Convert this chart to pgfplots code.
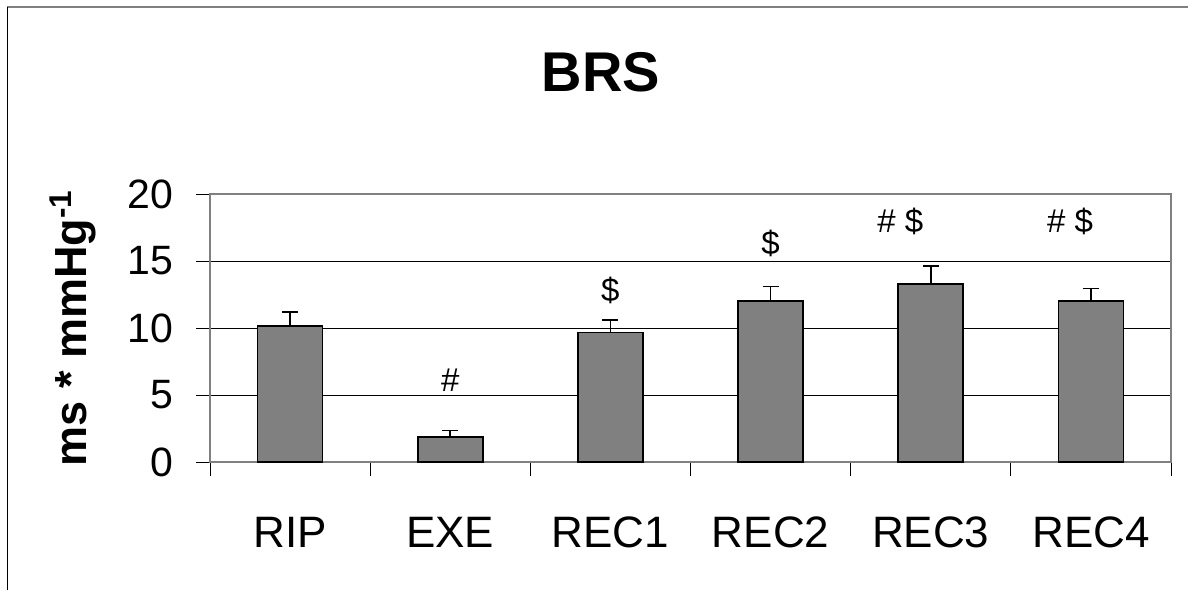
\documentclass[border=0pt]{standalone}
\usepackage{fontspec}
\setmainfont{Liberation Sans}
\usepackage{pgfplots}
\pgfplotsset{compat=1.18}
\definecolor{barfill}{HTML}{808080}
\definecolor{framegray}{HTML}{808080}

\begin{document}
\begin{tikzpicture}
% page frame
\path[use as bounding box] (0,0) rectangle (594pt,295pt);
\draw[framegray, line width=1pt] (3.5pt,291.5pt) -- (594pt,291.5pt);
\draw[black, line width=0.5pt] (3.5pt,291.5pt) -- (3.5pt,0pt);
% title
\node[font=\fontsize{28}{30}\selectfont\bfseries] at (300.5pt,259pt) {BRS};

\begin{axis}[
  at={(105pt,64pt)}, anchor=south west,
  scale only axis,
  width=480.5pt, height=134pt,
  xmin=0, xmax=6, ymin=0, ymax=20,
  axis line style={framegray, line width=0.9pt},
  xtick={0.5,1.5,2.5,3.5,4.5,5.5},
  xticklabels={RIP,EXE,REC1,REC2,REC3,REC4},
  major x tick style={draw=none},
  minor xtick={0,1,2,3,4,5,6},
  minor x tick style={black, line width=0.5pt},
  minor tick length=7pt,
  ytick={0,5,10,15,20},
  major tick length=7pt,
  y tick style={black, line width=0.5pt},
  tick align=outside,
  xtick pos=bottom, ytick pos=left,
  ymajorgrids,
  grid style={black, line width=0.5pt},
  /pgf/number format/assume math mode=true,
  xticklabel style={font=\fontsize{22}{24}\selectfont, yshift=-17pt},
  yticklabel style={font=\fontsize{20.5}{22}\selectfont, xshift=-8pt},
  ylabel={\textbf{ms * mmHg\textsuperscript{-1}}},
  ylabel style={font=\fontsize{22.5}{24}\selectfont, yshift=9pt},
]
\addplot[ybar, bar width=32.5pt, fill=barfill, draw=black, line width=0.9pt,
  error bars/.cd, y dir=plus, y explicit,
  error bar style={black, line width=0.9pt},
  error mark options={rotate=90, mark size=4pt, line width=0.9pt, black}]
  coordinates {
    (0.5,10.15) +- (0,1.07)
    (1.5,1.85)  +- (0,0.50)
    (2.5,9.66)  +- (0,0.95)
    (3.5,12.0)  +- (0,1.10)
    (4.5,13.27) +- (0,1.36)
    (5.5,12.0)  +- (0,0.95)
  };
% significance markers
\node[font=\fontsize{16.5}{18}\selectfont] at (axis cs:1.5,6.1) {\#};
\node[font=\fontsize{16.5}{18}\selectfont] at (axis cs:2.5,12.8) {\$};
\node[font=\fontsize{16.5}{18}\selectfont] at (axis cs:3.5,16.3) {\$};
\node[font=\fontsize{16.5}{18}\selectfont] at (axis cs:4.31,17.95) {\# \$};
\node[font=\fontsize{16.5}{18}\selectfont] at (axis cs:5.37,17.95) {\# \$};
\end{axis}
\end{tikzpicture}
\end{document}
